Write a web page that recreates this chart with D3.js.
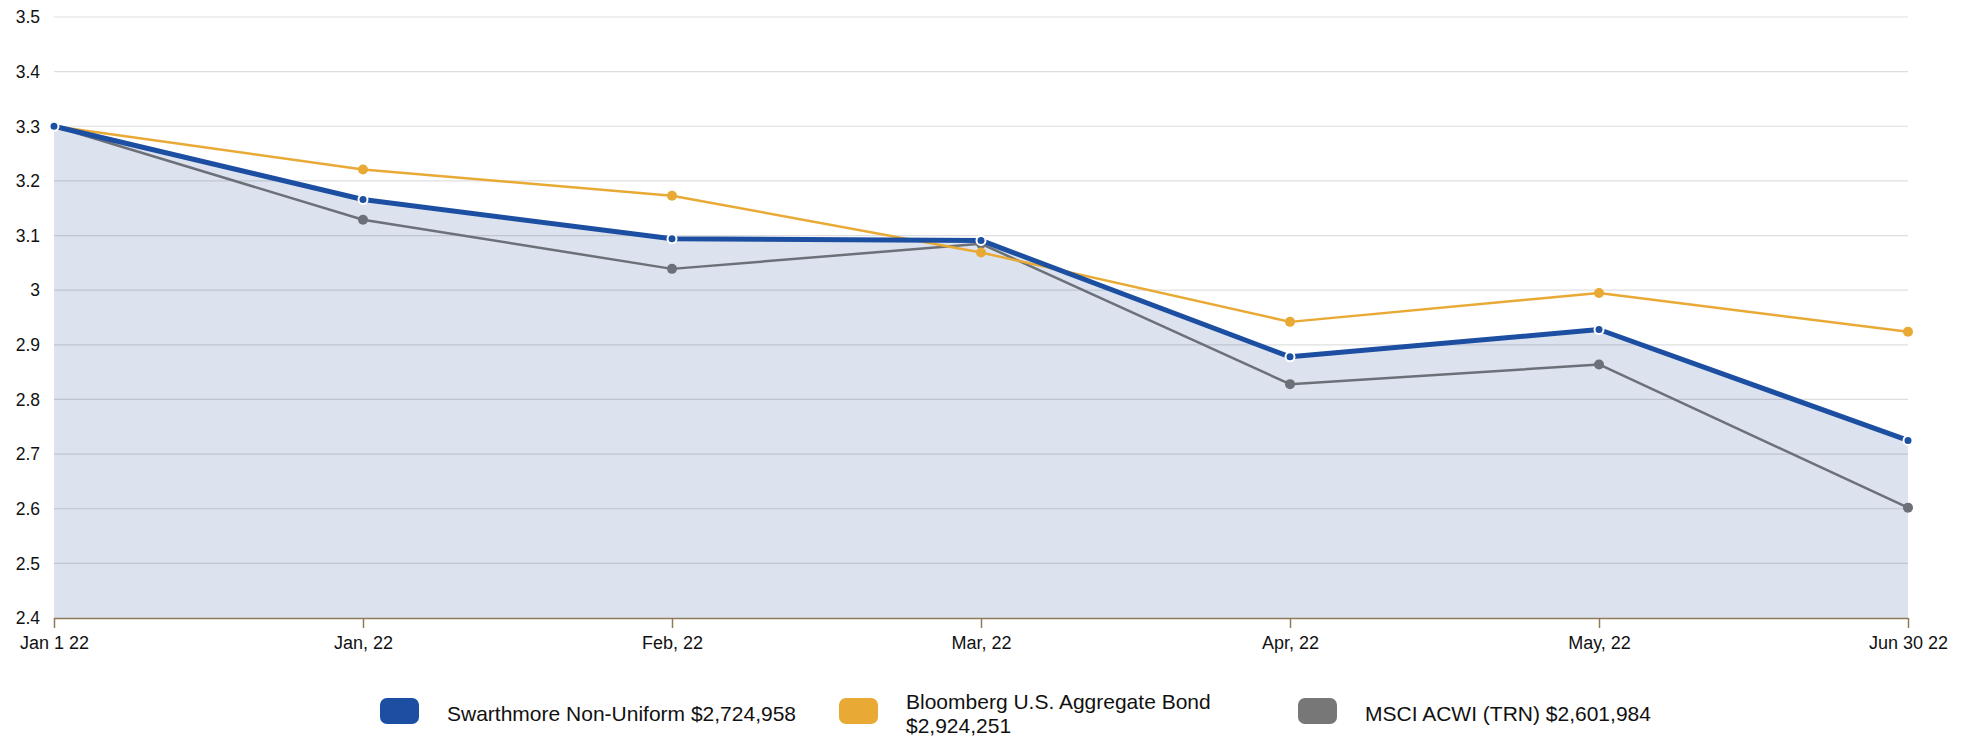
<!DOCTYPE html>
<html>
<head>
<meta charset="utf-8">
<script src="https://cdn.jsdelivr.net/npm/d3@7"></script>
<style>
  body { margin: 0; background: #fff; font-family: "Liberation Sans", Arial, sans-serif; }
</style>
</head>
<body>
<svg id="chart" width="1974" height="737"></svg>
<script>
  // Data
  const categories = ['Jan 1 22', 'Jan, 22', 'Feb, 22', 'Mar, 22', 'Apr, 22', 'May, 22', 'Jun 30 22'];
  const swarthmore = [3.3, 3.166, 3.094, 3.091, 2.878, 2.928, 2.725];
  const bloomberg = [3.3, 3.221, 3.173, 3.069, 2.942, 2.995, 2.924];
  const msci = [3.3, 3.129, 3.039, 3.085, 2.828, 2.864, 2.602];
  const yTicks = [2.4, 2.5, 2.6, 2.7, 2.8, 2.9, 3, 3.1, 3.2, 3.3, 3.4, 3.5];
  const legendLabels = ['Swarthmore Non-Uniform $2,724,958', 'Bloomberg U.S. Aggregate Bond $2,924,251', 'MSCI ACWI (TRN) $2,601,984'];

  const colors = { blue: '#1c4ea1', orange: '#e9a935', gray: '#6c7079', grayKey: '#777777' };

  const svg = d3.select('#chart');
  const plotLeft = 54, plotRight = 1908, plotTop = 17, plotBottom = 618;

  const x = d3.scalePoint().domain(categories).range([plotLeft, plotRight]);
  const y = d3.scaleLinear().domain([2.4, 3.5]).range([plotBottom, plotTop]);

  // Area under the main series
  const area = d3.area()
    .x((d, i) => x(categories[i]))
    .y0(plotBottom)
    .y1(d => y(d));

  svg.append('path')
    .datum(swarthmore)
    .attr('d', area)
    .attr('fill', '#dce3ee');

  // Grid lines
  svg.append('g')
    .selectAll('line')
    .data(yTicks.slice(1))
    .enter().append('line')
    .attr('x1', plotLeft)
    .attr('x2', plotRight)
    .attr('y1', d => y(d))
    .attr('y2', d => y(d))
    .attr('stroke', 'rgba(0,0,0,0.13)')
    .attr('stroke-width', 1.2);

  // Y labels
  svg.append('g')
    .selectAll('text')
    .data(yTicks)
    .enter().append('text')
    .attr('x', 40)
    .attr('y', d => y(d))
    .attr('dy', '0.36em')
    .attr('text-anchor', 'end')
    .attr('font-size', '17.5px')
    .attr('fill', '#111')
    .text(d => d);

  // X axis
  const xAxis = svg.append('g')
    .attr('transform', `translate(0,${plotBottom})`)
    .call(d3.axisBottom(x).tickSize(10).tickPadding(8));
  xAxis.select('.domain').attr('stroke', '#8f7a5a').attr('stroke-width', 1.5)
    .attr('d', `M${plotLeft},0.5H${plotRight}`);
  xAxis.selectAll('.tick line').attr('stroke', '#8f7a5a').attr('stroke-width', 1.5);
  xAxis.selectAll('.tick text')
    .attr('font-size', '18px')
    .attr('font-family', '"Liberation Sans", Arial, sans-serif')
    .attr('fill', '#111');

  // Lines
  const line = d3.line().x((d, i) => x(categories[i])).y(d => y(d));

  function drawSeries(values, color, width, markerR, ring) {
    svg.append('path')
      .datum(values)
      .attr('d', line)
      .attr('fill', 'none')
      .attr('stroke', color)
      .attr('stroke-width', width)
      .attr('stroke-linejoin', 'round');
    svg.append('g')
      .selectAll('circle')
      .data(values)
      .enter().append('circle')
      .attr('cx', (d, i) => x(categories[i]))
      .attr('cy', d => y(d))
      .attr('r', markerR)
      .attr('fill', color)
      .attr('stroke', ring ? '#fff' : 'none')
      .attr('stroke-width', ring ? 2 : 0);
  }

  drawSeries(msci, colors.gray, 2.5, 5, false);
  drawSeries(bloomberg, colors.orange, 2.5, 5, false);
  drawSeries(swarthmore, colors.blue, 5, 4.5, true);

  // Legend
  const legendColors = [colors.blue, colors.orange, colors.grayKey];
  const legendStart = 380, legendStep = 459, maxText = 360;
  legendLabels.forEach((label, i) => {
    const g = svg.append('g').attr('transform', `translate(${legendStart + i * legendStep},698)`);
    g.append('rect')
      .attr('width', 39)
      .attr('height', 26)
      .attr('rx', 7)
      .attr('fill', legendColors[i]);
    const t = g.append('text')
      .attr('x', 67)
      .attr('font-size', '21px')
      .attr('fill', '#111');
    // wrap words
    const words = label.split(' ');
    let lines = [], cur = '';
    const probe = g.append('text').attr('font-size', '21px');
    words.forEach(w => {
      const test = cur ? cur + ' ' + w : w;
      probe.text(test);
      if (probe.node().getComputedTextLength() > maxText && cur) {
        lines.push(cur);
        cur = w;
      } else {
        cur = test;
      }
    });
    lines.push(cur);
    probe.remove();
    const firstY = lines.length > 1 ? 11 : 23;
    lines.forEach((l, j) => {
      t.append('tspan').attr('x', 67).attr('y', firstY + j * 24).text(l);
    });
  });
</script>
</body>
</html>
